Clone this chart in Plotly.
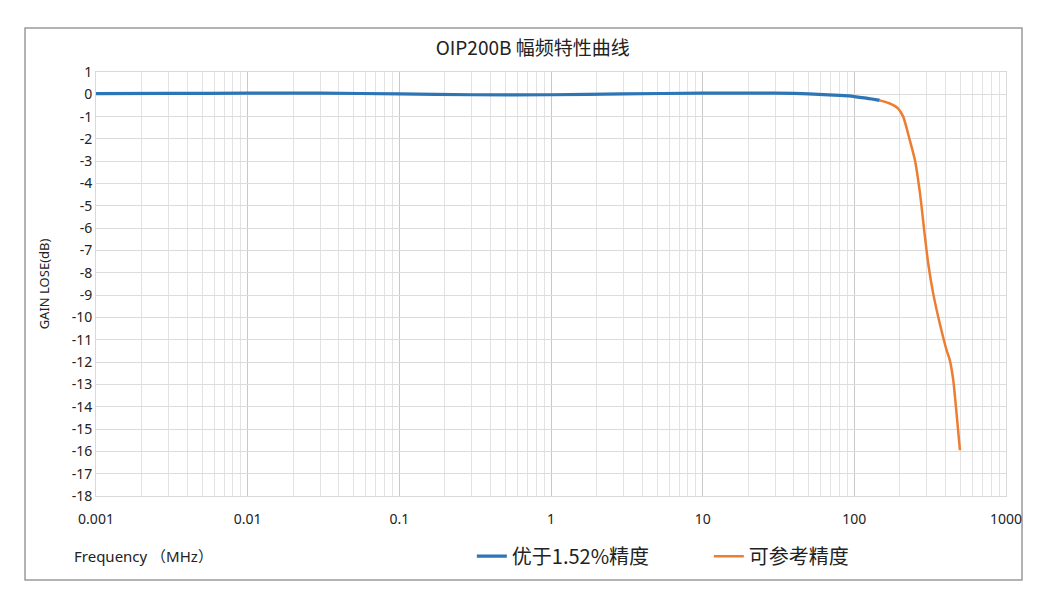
import plotly.graph_objects as go

# frequency (MHz) and gain loss (dB)
freq_good = [0.001, 0.003, 0.01, 0.03, 0.1, 0.3, 1, 3, 10, 30, 50, 80, 100, 120, 147]
gain_good = [0.03, 0.04, 0.05, 0.05, 0.02, -0.02, -0.02, 0.02, 0.05, 0.05, 0.02, -0.05, -0.1, -0.17, -0.27]

freq_ref = [147, 170, 194, 210, 232, 251, 271, 292, 307, 331, 366, 406, 426, 449, 472, 497]
gain_ref = [-0.27, -0.4, -0.63, -1.0, -2.05, -2.95, -4.44, -6.38, -7.58, -8.92, -10.27, -11.47, -11.91, -12.81, -14.3, -15.95]

y_ticks = list(range(-18, 2))
y_tick_text = [str(v) for v in y_ticks]
x_ticks = [0.001, 0.01, 0.1, 1, 10, 100, 1000]
x_tick_text = ["0.001", "0.01", "0.1", "1", "10", "100", "1000"]

# minor gridlines at 2..9 within every decade
minor_vals = [m * d for d in x_ticks[:-1] for m in range(2, 10)]

fig = go.Figure()

fig.add_trace(go.Scatter(
    x=freq_good, y=gain_good, mode="lines", name="优于1.52%精度",
    line=dict(color="#2E75B6", width=3.2, shape="spline"),
))
fig.add_trace(go.Scatter(
    x=freq_ref, y=gain_ref, mode="lines", name="可参考精度",
    line=dict(color="#ED7D31", width=2.5, shape="spline", smoothing=0.6),
))

# outer chart border
fig.add_shape(type="rect", xref="paper", yref="paper",
              x0=-0.078, x1=1.0176, y0=-0.198, y1=1.104,
              line=dict(color="#9a9a9a", width=1.5), layer="below")

fig.add_annotation(
    xref="paper", yref="paper", x=-0.026, y=-0.142,
    text="Frequency （MHz）", showarrow=False, xanchor="left", yanchor="middle",
    font=dict(size=15, color="#222"),
)

fig.update_layout(
    width=1039, height=597,
    margin=dict(l=88, r=41, t=64, b=109),
    plot_bgcolor="white", paper_bgcolor="white",
    font=dict(family="Noto Sans, Noto Sans CJK SC", color="#222"),
    title=dict(text="OIP200B 幅频特性曲线", x=0.505, xanchor="center",
               y=0.933, yanchor="middle",
               font=dict(size=19, family="Noto Sans CJK SC, Noto Sans", color="#222")),
    legend=dict(orientation="h", x=0.413, y=-0.142, xanchor="left", yanchor="middle",
                font=dict(size=20, family="Noto Sans CJK SC"), itemwidth=30,
                entrywidth=192, entrywidthmode="pixels",
                bgcolor="rgba(0,0,0,0)"),
    showlegend=True,
)

fig.update_xaxes(
    type="log", range=[-3, 3],
    tickvals=x_ticks, ticktext=x_tick_text,
    showgrid=True, gridcolor="#c8c8c8", gridwidth=1,
    minor=dict(tickvals=minor_vals, showgrid=True, gridcolor="#e3e3e3", gridwidth=1, ticks=""),
    showline=True, linecolor="#d9d9d9", mirror=True,
    ticks="", tickfont=dict(size=14, color="#222"),
    ticklabelstandoff=10,
    zeroline=False,
)
fig.update_yaxes(
    range=[-18, 1], tickvals=y_ticks, ticktext=y_tick_text,
    showgrid=True, gridcolor="#dcdcdc", gridwidth=1,
    showline=True, linecolor="#d9d9d9", mirror=True,
    zeroline=False, ticks="", tickfont=dict(size=14, color="#222"),
    title=dict(text="GAIN LOSE(dB)", font=dict(size=13, color="#222"), standoff=19),
)

fig.write_html("out.html")
